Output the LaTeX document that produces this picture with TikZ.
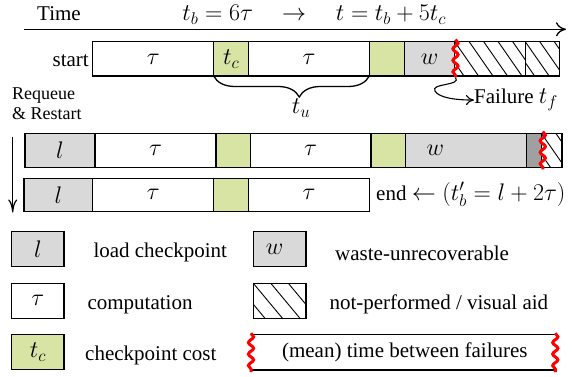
\RequirePackage{fix-cm}
\documentclass[tikz,border=0pt]{standalone}
\usepackage[no-math]{fontspec}
\setmainfont{Liberation Serif}
\DeclareMathSizes{21}{24}{17}{12}
\DeclareMathSizes{18}{21}{15}{11}
\usetikzlibrary{arrows.meta,decorations.pathmorphing,decorations.pathreplacing}

\definecolor{ckptgreen}{RGB}{215,228,164}
\definecolor{loadgray}{RGB}{217,217,217}
\definecolor{lostgray}{RGB}{160,160,160}

\tikzset{
  txt/.style={font=\fontsize{21}{25}\selectfont, inner sep=0pt},
  cell/.style={draw, line width=1.5pt, anchor=north west, inner sep=0pt, outer sep=0pt,
               font=\fontsize{21}{25}\selectfont},
  comp/.style={cell, fill=white},
  ckpt/.style={cell, fill=ckptgreen},
  load/.style={cell, fill=loadgray},
  lost/.style={cell, fill=lostgray},
  hatched/.style 2 args={cell, fill=white, path picture={
      \foreach \k in {-4,...,8}
        \draw[line width=0.9pt] ([xshift=\k*#1 pt]path picture bounding box.north west) -- ++(#2,36);}},
  failwave/.style={red, line width=3pt, decorate,
                   decoration={snake, segment length=11.5pt, amplitude=2.6pt}},
  timearrow/.style={line width=1.3pt, -{To[length=10pt,width=14pt]}},
  downarrow/.style={line width=1.2pt, -{To[length=13pt,width=9pt]}},
  failarrow/.style={line width=1.1pt, -{To[length=8pt,width=10pt]}},
  bracestyle/.style={line width=1.3pt, decorate,
                     decoration={brace, mirror, amplitude=21pt, aspect=0.55}}
}

\begin{document}
\begin{tikzpicture}[x=1pt, y=-1pt]
\useasboundingbox (0,0) rectangle (573,377);

% ---- time axis ----
\node[txt, anchor=base] (time) at (59,20.7) {Time};
\node[txt, anchor=base] (tbeq) at (217.7,20.5) {$t_b = 6\tau$};
\node[txt, anchor=base] (tarr) at (294,21) {$\rightarrow$};
\node[txt, anchor=base] (teq) at (391,20.5) {$t = t_b + 5t_c$};
\coordinate (axisL) at (24,29.3);
\coordinate (axisR) at (566,29.3);
\draw[timearrow] (axisL) -- (axisR);

% ---- first run ----
\node[txt, anchor=base east] (start) at (89,66.7) {start};
\node[comp, minimum width=121pt, minimum height=34.3pt] (s1) at (92.7,41.7) {$\tau$};
\node[ckpt, minimum width=35pt, minimum height=34.3pt] (s2) at (213.7,41.7) {$t_c$};
\node[comp, minimum width=120.6pt, minimum height=34.3pt] (s3) at (248.7,41.7) {$\tau$};
\node[ckpt, minimum width=35pt, minimum height=34.3pt] (s4) at (369.3,41.7) {};
\node[load, minimum width=50.4pt, minimum height=34.3pt] (s5) at (404.3,41.7) {$w$};
\node[hatched={14.5}{25}, minimum width=70.6pt, minimum height=34.3pt] (s6) at (454.7,41.7) {};
\node[hatched={14.5}{25}, minimum width=34.4pt, minimum height=34.3pt] (s7) at (525.3,41.7) {};
\coordinate (w1top) at (455.5,39.5);
\coordinate (w1bot) at (455.5,77.5);
\draw[failwave] (w1top) -- (w1bot);

% useful work between two checkpoints
\draw[bracestyle] (s2.south west) -- (s3.south east);
\node[txt] (tu) at (301,108) {$t_u$};

% failure marker
\node[txt, anchor=base west] (fail) at (474,104) {Failure $t_f$};
\draw[failarrow] (w1bot) .. controls (462,86) and (430,83) .. (435,91)
                         .. controls (439,98) and (456,100) .. (fail.west);

% ---- restart ----
\node[anchor=north west, align=left, inner sep=0pt, font=\fontsize{18}{20}\selectfont]
  (requeue) at (12,88) {Requeue\\\& Restart};
\coordinate (downA) at (12.7,137);
\coordinate (downB) at (12.7,212.5);
\draw[downarrow] (downA) -- (downB);

\node[load, minimum width=70pt, minimum height=34pt] (r1) at (25,133.3) {$l$};
\node[comp, minimum width=121pt, minimum height=34pt] (r2) at (95,133.3) {$\tau$};
\node[ckpt, minimum width=34.3pt, minimum height=34pt] (r3) at (216,133.3) {};
\node[comp, minimum width=120.7pt, minimum height=34pt] (r4) at (250.3,133.3) {$\tau$};
\node[ckpt, minimum width=34.3pt, minimum height=34pt] (r5) at (371,133.3) {};
\node[load, minimum width=121pt, minimum height=34pt] (r6) at (405.3,133.3) {};
\node[txt] (r6w) at (435.3,150.3) {$w$};
\node[lost, minimum width=15pt, minimum height=34pt] (r7) at (526.3,133.3) {};
\node[hatched={14.5}{25}, minimum width=20.7pt, minimum height=34pt] (r8) at (541.3,133.3) {};
\coordinate (w2top) at (542.8,131.5);
\coordinate (w2bot) at (542.8,169.5);
\draw[failwave] (w2top) -- (w2bot);

% ---- final run ----
\node[load, minimum width=68.7pt, minimum height=33pt] (e1) at (24,178.3) {$l$};
\node[comp, minimum width=121pt, minimum height=33pt] (e2) at (92.7,178.3) {$\tau$};
\node[ckpt, minimum width=35pt, minimum height=33pt] (e3) at (213.7,178.3) {};
\node[comp, minimum width=120.6pt, minimum height=33pt] (e4) at (248.7,178.3) {$\tau$};
\node[txt, anchor=base west] (endl) at (376,200.7) {end $\leftarrow (t'_b = l + 2\tau)$};

% ---- legend ----
\node[load, minimum width=52.3pt, minimum height=35pt] (lgL) at (11.7,231.3) {$l$};
\node[comp, minimum width=52.3pt, minimum height=35pt] (lgT) at (11.7,283.3) {$\tau$};
\node[ckpt, minimum width=52.3pt, minimum height=35pt] (lgC) at (11.7,334.7) {$t_c$};
\node[txt, anchor=base west] (lgLt) at (93.3,257.3) {load checkpoint};
\node[txt, anchor=base west] (lgTt) at (87.3,309.7) {computation};
\node[txt, anchor=base west] (lgCt) at (85,360.7) {checkpoint cost};

\node[load, minimum width=52.7pt, minimum height=35pt] (lgW) at (253.3,231.3) {};
\node[txt] (lgWl) at (274.5,249) {$w$};
\node[hatched={17.5}{30}, minimum width=52.7pt, minimum height=35pt] (lgH) at (253.3,283.3) {};
\node[txt, anchor=base west] (lgWt) at (335,260.7) {waste-unrecoverable};
\node[txt, anchor=base west] (lgHt) at (329.3,309) {not-performed / visual aid};

\coordinate (mtNW) at (251,334.7);
\coordinate (mtNE) at (555.3,334.7);
\coordinate (mtSW) at (251,370);
\coordinate (mtSE) at (555.3,370);
\draw[line width=1.5pt] (mtNW) -- (mtNE) (mtSW) -- (mtSE);
\draw[failwave] ([yshift=1.5pt]mtNW) -- ([yshift=-2pt]mtSW);
\draw[failwave] ([yshift=1.5pt]mtNE) -- ([yshift=-2pt]mtSE);
\node[txt, anchor=base] (mtt) at (404.8,357.3) {(mean) time between failures};
\end{tikzpicture}
\end{document}
